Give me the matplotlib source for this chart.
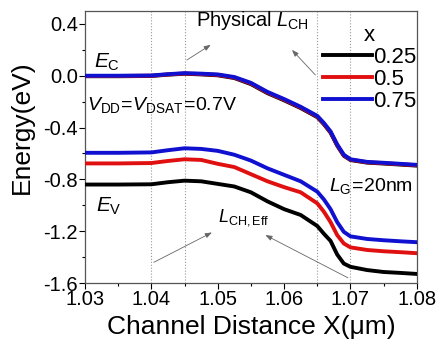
import numpy as np
import matplotlib
matplotlib.use("Agg")
import matplotlib.pyplot as plt

plt.rcParams["font.family"] = ["Liberation Sans", "DejaVu Sans"]
plt.rcParams["mathtext.fontset"] = "custom"
plt.rcParams["mathtext.rm"] = "Liberation Sans"
plt.rcParams["mathtext.it"] = "Liberation Sans:italic"

# ------------------------------------------------------------------
# data
# ------------------------------------------------------------------
x_pos = [1.03, 1.035, 1.04, 1.0425, 1.045, 1.0475, 1.05, 1.0525, 1.055, 1.0575,
         1.06, 1.0625, 1.065, 1.066, 1.067, 1.068, 1.069, 1.07, 1.0725, 1.075,
         1.0775, 1.08]

ec_075 = [0.0, 0.0, 0.002, 0.012, 0.02, 0.016, 0.01, -0.01, -0.055, -0.125,
          -0.18, -0.24, -0.31, -0.365, -0.43, -0.53, -0.61, -0.645, -0.665,
          -0.672, -0.68, -0.688]
ec_05 = [-0.002, -0.002, 0.0, 0.01, 0.017, 0.013, 0.006, -0.014, -0.06, -0.13,
         -0.185, -0.245, -0.315, -0.37, -0.435, -0.535, -0.614, -0.648, -0.668,
         -0.675, -0.683, -0.691]
ec_025 = [-0.004, -0.004, -0.002, 0.008, 0.015, 0.01, 0.003, -0.018, -0.065,
          -0.135, -0.19, -0.25, -0.32, -0.375, -0.44, -0.54, -0.618, -0.651,
          -0.671, -0.678, -0.686, -0.694]

ev_075 = [-0.595, -0.595, -0.592, -0.575, -0.56, -0.565, -0.58, -0.61, -0.655,
          -0.715, -0.765, -0.815, -0.895, -0.955, -1.03, -1.13, -1.205, -1.24,
          -1.26, -1.27, -1.278, -1.285]
ev_05 = [-0.677, -0.677, -0.674, -0.658, -0.645, -0.65, -0.68, -0.705, -0.76,
         -0.815, -0.86, -0.9, -0.985, -1.05, -1.13, -1.23, -1.295, -1.325,
         -1.345, -1.355, -1.362, -1.37]
ev_025 = [-0.84, -0.84, -0.838, -0.822, -0.81, -0.815, -0.835, -0.855, -0.9,
          -0.97, -1.03, -1.075, -1.16, -1.22, -1.275, -1.38, -1.45, -1.475,
          -1.5, -1.515, -1.522, -1.53]

mole_fractions = ["0.25", "0.5", "0.75"]
line_colors = ["black", "#e01010", "#1010d0"]
guide_x = [1.04, 1.045, 1.065, 1.07]

# ------------------------------------------------------------------
fig = plt.figure(figsize=(4.36, 3.42), dpi=100)
ax = fig.add_axes([0.195, 0.1725, 0.761, 0.7955])

for gx in guide_x:
    ax.axvline(gx, color="#999999", linestyle=":", linewidth=0.8, zorder=1)

ec_sets = [ec_025, ec_05, ec_075]
ev_sets = [ev_025, ev_05, ev_075]
for lab, col, ec, ev in zip(mole_fractions, line_colors, ec_sets, ev_sets):
    ax.plot(x_pos, ec, color=col, linewidth=2.8, label=lab, zorder=3)
    ax.plot(x_pos, ev, color=col, linewidth=2.8, zorder=3)

ax.set_xlim(1.03, 1.08)
ax.set_ylim(-1.6, 0.5)
ax.set_xticks([1.03, 1.04, 1.05, 1.06, 1.07, 1.08])
ax.set_xticks(np.arange(1.035, 1.08, 0.01), minor=True)
ax.set_yticks([0.4, 0.0, -0.4, -0.8, -1.2, -1.6])
ax.set_yticks([0.2, -0.2, -0.6, -1.0, -1.4], minor=True)
ax.set_yticklabels(["0.4", "0.0", "-0.4", "-0.8", "-1.2", "-1.6"])
ax.tick_params(direction="out", labelsize=14.5, length=4, width=0.8,
               top=False, right=False, pad=1)
ax.tick_params(which="minor", direction="out", length=2.5, width=0.8)
for sp in ax.spines.values():
    sp.set_color("#555555")
    sp.set_linewidth(0.9)

ax.set_xlabel("Channel Distance X(μm)", fontsize=19, labelpad=4)
ax.set_ylabel("Energy(eV)", fontsize=19)
ax.yaxis.set_label_coords(-0.155, 0.574)

leg = ax.legend(title="x", loc="upper right", frameon=False, fontsize=16,
                title_fontsize=16, handlelength=2.2, handletextpad=0.05,
                labelspacing=0.05, borderaxespad=0.0,
                bbox_to_anchor=(1.025, 0.982))

ax.text(1.0314, 0.06, r"$\mathit{E}_{\mathrm{C}}$", fontsize=15)
ax.text(1.0316, -1.05, r"$\mathit{E}_{\mathrm{V}}$", fontsize=15)
ax.text(1.0303, -0.265, r"$\mathit{V}_{\mathrm{DD}}\!=\!\mathit{V}_{\mathrm{DSAT}}\!=\!0.7\mathrm{V}$",
        fontsize=14)
ax.text(1.0467, 0.38, r"Physical $\mathit{L}_{\mathrm{CH}}$", fontsize=14.5)
ax.text(1.0668, -0.89, r"$\mathit{L}_{\mathrm{G}}\!=\!20\mathrm{nm}$", fontsize=14)
ax.text(1.0500, -1.125, r"$\mathit{L}_{\mathrm{CH,Eff}}$", fontsize=13)

arrow_kw = dict(arrowstyle="-|>,head_length=0.4,head_width=0.15",
                color="#666666", linewidth=0.6)
ax.annotate("", xy=(1.0493, 0.25), xytext=(1.045, 0.11), arrowprops=arrow_kw)
ax.annotate("", xy=(1.0609, 0.215), xytext=(1.065, -0.01), arrowprops=arrow_kw)
ax.annotate("", xy=(1.0495, -1.20), xytext=(1.04, -1.45), arrowprops=arrow_kw)
ax.annotate("", xy=(1.0568, -1.22), xytext=(1.07, -1.57), arrowprops=arrow_kw)

fig.savefig("out.png", dpi=100)
